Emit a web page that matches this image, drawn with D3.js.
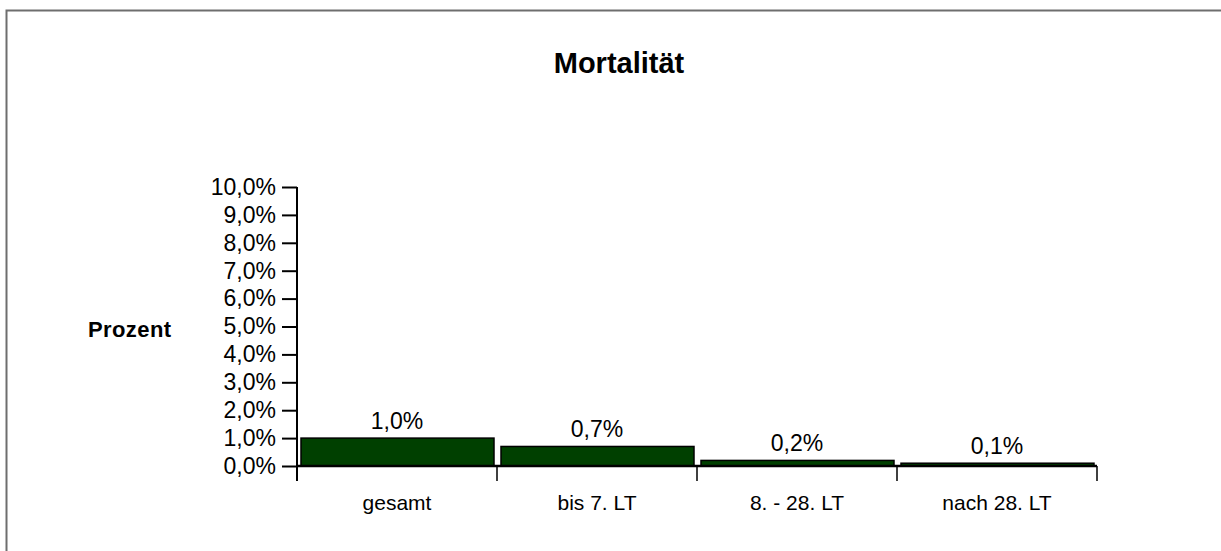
<!DOCTYPE html>
<html>
<head>
<meta charset="utf-8">
<script src="https://cdn.jsdelivr.net/npm/d3@7"></script>
<style>
  html, body { margin: 0; padding: 0; background: #fff; }
  svg { display: block; font-family: Arial, "Liberation Sans", sans-serif; }
</style>
</head>
<body>
<svg id="chart" width="1221" height="551"></svg>
<script>
// Mortality by period (percent)
const categories = ["gesamt", "bis 7. LT", "8. - 28. LT", "nach 28. LT"];
const mortality = [1.0, 0.7, 0.2, 0.1];
const yTicks = [0, 1, 2, 3, 4, 5, 6, 7, 8, 9, 10];
const titleText = "Mortalität";
const yTitle = "Prozent";

const svg = d3.select("#chart");
const de = d3.formatLocale({ decimal: ",", thousands: ".", grouping: [3], currency: ["", " €"] });
const pct = v => de.format(".1f")(v) + "%";

// outer frame
svg.append("rect")
  .attr("x", 6.5).attr("y", 10.5)
  .attr("width", 1240).attr("height", 560)
  .attr("fill", "none").attr("stroke", "#6e6e6e").attr("stroke-width", 2);

const x = d3.scaleBand().domain(categories).range([297, 1097]).padding(0);
const y = d3.scaleLinear().domain([0, 10]).range([466, 187]);

// title
svg.append("text")
  .attr("x", 619).attr("y", 73)
  .attr("text-anchor", "middle")
  .attr("font-size", 29).attr("font-weight", "bold")
  .text(titleText);

// y axis title
svg.append("text")
  .attr("x", 88).attr("y", 337)
  .attr("font-size", 22).attr("font-weight", "bold")
  .attr("letter-spacing", 0.4)
  .text(yTitle);

// y axis
const yAxis = svg.append("g")
  .attr("transform", "translate(297,0)")
  .call(d3.axisLeft(y).tickValues(yTicks).tickFormat(pct).tickSize(15).tickPadding(6));
yAxis.select(".domain").remove();
yAxis.selectAll(".tick line").attr("stroke", "#000").attr("stroke-width", 2);
yAxis.selectAll(".tick text")
  .attr("font-size", 23).attr("fill", "#000")
  .attr("font-family", "Arial, 'Liberation Sans', sans-serif");

// bars
svg.append("g").selectAll("rect")
  .data(categories)
  .join("rect")
  .attr("x", d => x(d) + 4)
  .attr("width", x.bandwidth() - 7)
  .attr("y", (d, i) => y(mortality[i]))
  .attr("height", (d, i) => y(0) - y(mortality[i]))
  .attr("fill", "#004000")
  .attr("stroke", "#000")
  .attr("stroke-width", 1.5);

// value labels
svg.append("g").selectAll("text")
  .data(categories)
  .join("text")
  .attr("x", d => x(d) + x.bandwidth() / 2)
  .attr("y", (d, i) => y(mortality[i]) - 9)
  .attr("text-anchor", "middle")
  .attr("font-size", 23)
  .text((d, i) => pct(mortality[i]));

// x axis
const xAxis = svg.append("g")
  .attr("transform", "translate(0,466)")
  .call(d3.axisBottom(x).tickSize(0).tickPadding(29));
xAxis.select(".domain").remove();
xAxis.selectAll(".tick text")
  .attr("font-size", 21).attr("fill", "#000")
  .attr("font-family", "Arial, 'Liberation Sans', sans-serif");

// category separators
const bounds = categories.map(d => x(d)).concat([x.range()[1]]);
svg.append("g").selectAll("line")
  .data(bounds)
  .join("line")
  .attr("x1", d => d).attr("x2", d => d)
  .attr("y1", 466).attr("y2", 481)
  .attr("stroke", "#000").attr("stroke-width", 1.5);

// axis lines
svg.append("line")
  .attr("x1", 297).attr("x2", 297).attr("y1", y(10)).attr("y2", 481)
  .attr("stroke", "#000").attr("stroke-width", 2);
svg.append("line")
  .attr("x1", 297).attr("x2", 1097).attr("y1", y(0)).attr("y2", y(0))
  .attr("stroke", "#000").attr("stroke-width", 2.5);
</script>
</body>
</html>
